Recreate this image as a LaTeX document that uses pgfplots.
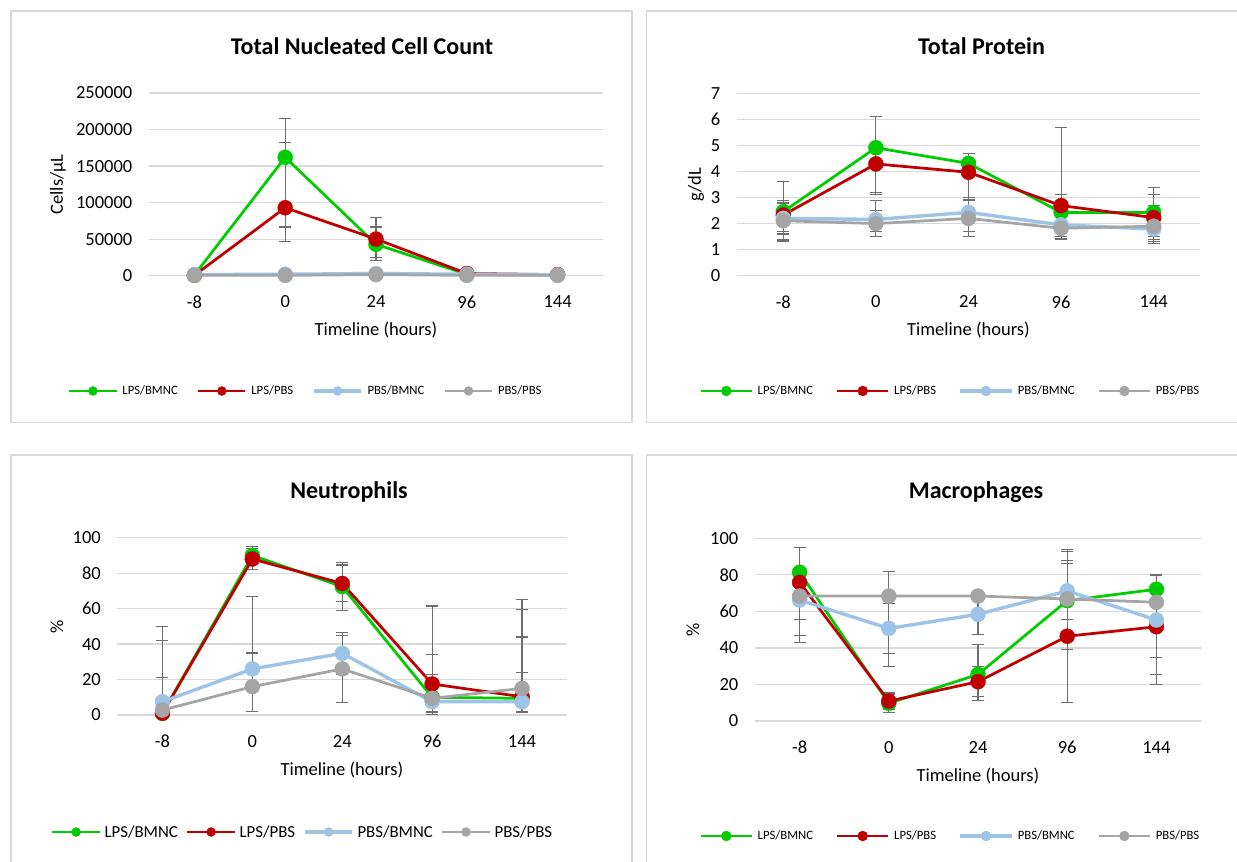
\documentclass[border=0pt]{standalone}
\usepackage{fontspec}
\setmainfont{Carlito}
\usepackage{pgfplots}
\usepackage{pgfplotstable}
\pgfplotsset{compat=1.18}
\definecolor{cgreen}{HTML}{00CC00}
\definecolor{cred}{HTML}{C00000}
\definecolor{cblue}{HTML}{9DC3E6}
\definecolor{cgray}{HTML}{A5A5A5}
\definecolor{gridc}{HTML}{D9D9D9}
\definecolor{errc}{HTML}{6E6E6E}
\newcommand\titlefont{\fontsize{24}{28}\selectfont\bfseries}
\newcommand\tickfont{\fontsize{18.5}{22}\selectfont}
\newcommand\labfont{\fontsize{18.5}{22}\selectfont}
\newcommand\legsmall{\fontsize{12.7}{15}\selectfont}
\newcommand\legbig{\fontsize{16.8}{20}\selectfont}

% columns: x, green(LPS/BMNC) y,+,-, red(LPS/PBS) y,+,-, blue(PBS/BMNC) y,+,-, gray(PBS/PBS) y,+,-
\pgfplotstableread{
x g gp gm r rp rm b bp bm k kp km
0 1000 0 0 500 0 0 1500 0 0 500 0 0
1 162000 53000 115000 93000 89000 26400 2000 0 0 500 0 0
2 43000 23600 22000 50200 29200 25600 3000 0 0 1500 0 0
3 2000 0 0 3000 0 0 2000 0 0 500 0 0
4 1000 0 0 1500 0 0 1000 0 0 500 0 0
}\tabA
\pgfplotstableread{
x g gp gm r rp rm b bp bm k kp km
0 2.46 1.14 1.14 2.33 0.55 0.64 2.20 0.58 0.60 2.11 0.70 0.74
1 4.91 1.19 1.71 4.29 0.00 1.17 2.16 0.72 0.47 2.00 0.50 0.50
2 4.31 0.39 1.37 3.97 0.00 0.97 2.43 0.50 0.74 2.20 0.70 0.70
3 2.43 0.67 1.00 2.69 2.99 1.29 1.95 0.40 0.45 1.82 0.30 0.40
4 2.43 0.96 1.21 2.23 0.87 0.93 1.79 0.92 0.30 1.90 0.50 0.50
}\tabB
\pgfplotstableread{
x g gp gm r rp rm b bp bm k kp km
0 1.0 49.0 1.0 1.0 41.0 1.0 7.5 13.5 7.5 2.8 0.0 2.8
1 90.0 5.0 5.0 88.0 6.0 6.0 26.0 41.0 24.0 16.0 19.0 14.0
2 72.4 13.6 13.6 74.2 10.4 10.4 34.8 11.8 11.8 26.0 19.0 19.0
3 10.0 24.0 8.0 17.5 5.5 16.0 7.5 54.0 7.0 9.4 13.6 8.0
4 9.4 50.0 8.0 10.3 33.7 8.5 7.5 16.5 6.0 15.0 50.0 13.0
}\tabC
\pgfplotstableread{
x g gp gm r rp rm b bp bm k kp km
0 81.4 13.6 38.5 75.9 0.0 29.2 66.2 10.4 10.4 68.4 0.0 0.0
1 9.7 5.1 5.1 10.9 4.8 4.8 50.7 13.7 13.7 68.4 13.4 38.5
2 25.5 16.5 14.5 21.5 8.2 8.2 58.4 11.0 11.0 68.4 1.1 0.7
3 65.9 21.9 27.0 46.4 46.3 36.4 71.2 22.8 22.8 66.8 19.5 11.0
4 72.1 8.2 21.9 51.6 0.0 31.7 55.3 0.0 30.0 65.0 14.4 30.1
}\tabD

\def\leglen{47.3}\def\leghalf{23.65}\def\legmark{4.5pt}
\pgfplotsset{
  panel/.style={scale only axis, anchor=south west, clip=false,
    xmin=-0.5, xmax=4.5, xtick={0,1,2,3,4}, xticklabels={-8,0,24,96,144},
    scaled y ticks=false,
    axis line style={draw=none}, tick style={draw=none}, major tick length=0pt,
    ymajorgrids, grid style={draw=gridc, line width=1.3pt},
    tick label style={font=\tickfont, inner sep=0pt},
    xticklabel style={anchor=north, yshift=-20pt},
    yticklabel style={anchor=east, xshift=-16.5pt},
    legend columns=4,
    legend cell align=left,
    legend image code/.code={\draw[##1, mark repeat=2, mark phase=2, mark size=\legmark] plot coordinates {(0pt,0pt) (\leghalf pt,0pt) (\leglen pt,0pt)};},
  },
  ser/.style={color=#1, line width=2.75pt, mark=*, mark size=7.5pt,
    mark options={solid, fill=#1, draw=#1, line width=0.4pt}},
  err/.style={forget plot, only marks, mark=none,
    /pgfplots/error bars/y dir=both, /pgfplots/error bars/y explicit,
    /pgfplots/error bars/error bar style={draw=errc, line width=1.1pt},
    /pgfplots/error bars/error mark options={rotate=90, draw=errc, mark size=6pt, line width=1.1pt}},
}
\newcommand\drawseries[1]{%
  \addplot[err] table[x=x, y=g, y error plus=gp, y error minus=gm] {#1};
  \addplot[err] table[x=x, y=r, y error plus=rp, y error minus=rm] {#1};
  \addplot[err] table[x=x, y=b, y error plus=bp, y error minus=bm] {#1};
  \addplot[err] table[x=x, y=k, y error plus=kp, y error minus=km] {#1};
  \addplot[ser=cgreen] table[x=x, y=g] {#1};
  \addplot[ser=cred] table[x=x, y=r] {#1};
  \addplot[ser=cblue, line width=3.4pt] table[x=x, y=b] {#1};
  \addplot[ser=cgray] table[x=x, y=k] {#1};
  \legend{LPS/BMNC, LPS/PBS, PBS/BMNC, PBS/PBS}
}

\begin{document}
\begin{tikzpicture}[x=1pt, y=1pt]
\path[use as bounding box] (0,0) rectangle (1237,-862);
% panel frames
\draw[gridc, line width=1.3pt] (11,-11) rectangle (632,-422.7);
\draw[gridc, line width=1.3pt] (1240,-11) -- (646.7,-11) -- (646.7,-422.7) -- (1240,-422.7);
\draw[gridc, line width=1.3pt] (11,-866) -- (11,-455) -- (632,-455) -- (632,-866);
\draw[gridc, line width=1.3pt] (1240,-455) -- (646.7,-455) -- (646.7,-866);

% ---------- Panel 1 ----------
\def\leglen{47.3}\def\leghalf{23.65}\def\legmark{4.5pt}
\begin{axis}[panel, at={(149pt,-275.7pt)}, width=454pt, height=182.7pt,
  ymin=0, ymax=250000, ytick={0,50000,100000,150000,200000,250000},
  yticklabels={0,50000,100000,150000,200000,250000},
  legend style={at={(axis description cs:-0.1791,-0.6311)}, anchor=west, draw=none, fill=none,
    inner sep=0pt, font=\legsmall, nodes={inner sep=0pt},
    /tikz/every odd column/.append style={column sep=4.5pt},
    /tikz/every even column/.append style={column sep=19pt}}]
\drawseries{\tabA}
\end{axis}
\node[font=\titlefont, anchor=base] at (362,-54) {Total Nucleated Cell Count};
\node[font=\labfont] at (376,-330) {Timeline (hours)};
\node[font=\labfont, rotate=90] at (58,-184.4) {Cells/µL};

% ---------- Panel 2 ----------
\def\leglen{51.5}\def\leghalf{25.75}\def\legmark{5pt}
\begin{axis}[panel, at={(737pt,-275.7pt)}, width=463pt, height=182.4pt,
  ymin=0, ymax=7, ytick={0,1,2,3,4,5,6,7}, yticklabels={0,1,2,3,4,5,6,7},
  legend style={at={(axis description cs:-0.0821,-0.6321)}, anchor=west, draw=none, fill=none,
    inner sep=0pt, font=\legsmall, nodes={inner sep=0pt},
    /tikz/every odd column/.append style={column sep=4.3pt},
    /tikz/every even column/.append style={column sep=22.5pt}}]
\drawseries{\tabB}
\end{axis}
\node[font=\titlefont, anchor=base] at (981.5,-54) {Total Protein};
\node[font=\labfont] at (968.5,-330) {Timeline (hours)};
\node[font=\labfont, rotate=90] at (696,-184.5) {g/dL};

% ---------- Panel 3 ----------
\def\leglen{47.6}\def\leghalf{23.8}\def\legmark{4.5pt}
\begin{axis}[panel, at={(117.5pt,-715pt)}, width=449.5pt, height=177.3pt,
  ymin=0, ymax=100, ytick={0,20,40,60,80,100}, yticklabels={0,20,40,60,80,100},
  legend style={at={(axis description cs:-0.1486,-0.6599)}, anchor=west, draw=none, fill=none,
    inner sep=0pt, font=\legbig, nodes={inner sep=0pt},
    /tikz/every odd column/.append style={column sep=3.4pt},
    /tikz/every even column/.append style={column sep=8pt}}]
\drawseries{\tabC}
\end{axis}
\node[font=\titlefont, anchor=base] at (349,-498.3) {Neutrophils};
\node[font=\labfont] at (342,-770) {Timeline (hours)};
\node[font=\labfont, rotate=90] at (57,-626.4) {\%};

% ---------- Panel 4 ----------
\def\leglen{51.5}\def\leghalf{25.75}\def\legmark{5pt}
\begin{axis}[panel, at={(755pt,-721pt)}, width=446pt, height=182.7pt,
  ymin=0, ymax=100, ytick={0,20,40,60,80,100}, yticklabels={0,20,40,60,80,100},
  legend style={at={(axis description cs:-0.1256,-0.6294)}, anchor=west, draw=none, fill=none,
    inner sep=0pt, font=\legsmall, nodes={inner sep=0pt},
    /tikz/every odd column/.append style={column sep=4.3pt},
    /tikz/every even column/.append style={column sep=22.5pt}}]
\drawseries{\tabD}
\end{axis}
\node[font=\titlefont, anchor=base] at (976,-498.3) {Macrophages};
\node[font=\labfont] at (978,-776) {Timeline (hours)};
\node[font=\labfont, rotate=90] at (693,-629.7) {\%};
\end{tikzpicture}
\end{document}
